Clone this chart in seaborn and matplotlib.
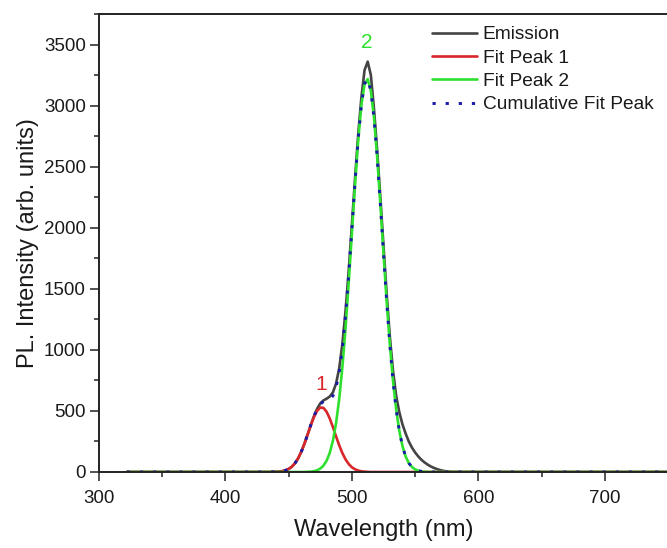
import matplotlib
matplotlib.use("Agg")
import matplotlib.pyplot as plt
from matplotlib.ticker import MultipleLocator
import seaborn as sns

# ---------------- data ----------------
wavelength = [322, 350, 400, 430,
              435, 437.5, 440, 442.5, 445, 447.5, 450, 452.5, 455, 457.5,
              460, 462.5, 465, 467.5, 470, 472.5, 475, 477.5, 480, 482.5,
              485, 487.5, 490, 492.5, 495, 497.5, 500, 502.5, 505, 507.5,
              510, 512.5, 515, 517.5, 520, 522.5, 525, 527.5, 530, 532.5,
              535, 537.5, 540, 542.5, 545, 547.5, 550, 552.5, 555, 557.5,
              560, 562.5, 565, 567.5, 570, 572.5, 575, 577.5, 580,
              590, 600, 650, 700, 760]

emission = [0, 0, 0, 0,
            0, 1, 2, 3, 7, 13, 25, 43, 72, 112,
            166, 232, 308, 385, 457, 518, 562, 586, 600, 618,
            652, 725, 850, 1050, 1320, 1650, 2025, 2405, 2765, 3065,
            3290, 3360, 3250, 2970, 2630, 2250, 1850, 1460, 1110, 830,
            625, 490, 390, 315, 250, 200, 160, 127, 100, 78,
            60, 45, 33, 23, 15, 9, 5, 2, 1,
            0, 0, 0, 0, 0]

fit_peak_1 = [0, 0, 0, 0,
              0, 1, 2, 3, 7, 13, 25, 43, 72, 112,
              166, 232, 306, 382, 450, 501, 528, 525, 493, 438,
              367, 291, 218, 154, 103, 65, 39, 22, 12, 6,
              3, 1, 0, 0, 0, 0, 0, 0, 0, 0,
              0, 0, 0, 0, 0, 0, 0, 0, 0, 0,
              0, 0, 0, 0, 0, 0, 0, 0, 0,
              0, 0, 0, 0, 0]

fit_peak_2 = [0, 0, 0, 0,
              0, 0, 0, 0, 0, 0, 0, 0, 0, 0,
              0, 0, 2, 3, 7, 14, 28, 52, 92, 157,
              256, 401, 600, 860, 1181, 1552, 1953, 2354, 2716, 3001,
              3176, 3217, 3121, 2899, 2578, 2196, 1791, 1398, 1046, 748,
              513, 337, 212, 127, 73, 41, 21, 11, 5, 2,
              1, 0, 0, 0, 0, 0, 0, 0, 0,
              0, 0, 0, 0, 0]

cumulative = [0, 0, 0, 0,
              0, 1, 2, 3, 7, 13, 25, 43, 72, 112,
              166, 232, 308, 385, 457, 515, 556, 577, 585, 595,
              623, 692, 818, 1014, 1284, 1617, 1992, 2376, 2728, 3007,
              3179, 3218, 3121, 2899, 2578, 2196, 1791, 1398, 1046, 748,
              513, 337, 212, 127, 73, 41, 21, 11, 5, 2,
              1, 0, 0, 0, 0, 0, 0, 0, 0,
              0, 0, 0, 0, 0]

series_names = ["Emission", "Fit Peak 1", "Fit Peak 2", "Cumulative Fit Peak"]
peak_labels = ["1", "2"]
peak_label_x = [476, 512]
peak_label_y = [720, 3515]

x_ticks = [300, 400, 500, 600, 700]
y_ticks = [0, 500, 1000, 1500, 2000, 2500, 3000, 3500]

# ---------------- styling ----------------
sns.set_theme(style="ticks")
plt.rcParams["font.family"] = ["Liberation Sans", "DejaVu Sans"]

c_em = "#444444"
c_red = "#d8262a"
c_green = "#2ee02e"
c_blue = "#1a1aaa"

fig = plt.figure(figsize=(6.67, 5.48), dpi=100)
ax = fig.add_axes([99 / 667, 76 / 548, 569 / 667, 458 / 548])

sns.lineplot(x=wavelength, y=emission, ax=ax, color=c_em, lw=1.9,
             label=series_names[0], sort=False, estimator=None)
sns.lineplot(x=wavelength, y=fit_peak_1, ax=ax, color=c_red, lw=1.9,
             label=series_names[1], sort=False, estimator=None)
sns.lineplot(x=wavelength, y=fit_peak_2, ax=ax, color=c_green, lw=1.9,
             label=series_names[2], sort=False, estimator=None)
sns.lineplot(x=wavelength, y=cumulative, ax=ax, color=c_blue, lw=2.1,
             linestyle=(0, (1.1, 3.4)), dash_capstyle="butt",
             label=series_names[3], sort=False, estimator=None)

ax.set_xlim(300, 750)
ax.set_ylim(0, 3750)
ax.set_xticks(x_ticks)
ax.set_yticks(y_ticks)
ax.xaxis.set_minor_locator(MultipleLocator(50))
ax.yaxis.set_minor_locator(MultipleLocator(250))

ax.tick_params(axis="both", which="major", direction="out", length=6.5,
               width=1.1, labelsize=13.5, color="#222222", labelcolor="#1a1a1a")
ax.tick_params(axis="x", which="major", pad=6.5)
ax.tick_params(axis="y", which="major", pad=3)
ax.tick_params(axis="both", which="minor", direction="out", length=3.6,
               width=1.1, color="#222222")
ax.tick_params(top=False, right=False, which="both")

for s in ["left", "bottom", "top"]:
    ax.spines[s].set_linewidth(1.4)
    ax.spines[s].set_color("#222222")
ax.spines["right"].set_visible(False)

ax.set_xlabel("Wavelength (nm)", fontsize=17, labelpad=8.5, color="#1a1a1a")
ax.set_ylabel("PL. Intensity (arb. units)", fontsize=17, labelpad=3.5,
              color="#1a1a1a")

ax.text(peak_label_x[0], peak_label_y[0], peak_labels[0], color=c_red,
        fontsize=15, ha="center", va="center")
ax.text(peak_label_x[1], peak_label_y[1], peak_labels[1], color=c_green,
        fontsize=15, ha="center", va="center")

leg = ax.legend(loc="upper left", bbox_to_anchor=(432 / 667, 1 - 26 / 548),
                bbox_transform=fig.transFigure, frameon=False, fontsize=13.8,
                handlelength=2.35, handletextpad=0.3, labelspacing=0.31,
                borderpad=0, borderaxespad=0)
for t in leg.get_texts():
    t.set_color("#1a1a1a")

fig.savefig("out.png", dpi=100)
